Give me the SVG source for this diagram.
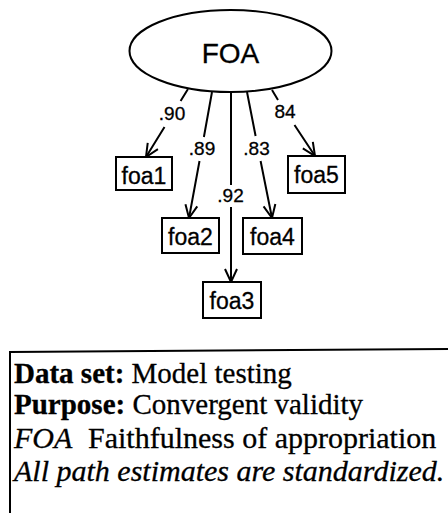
<svg xmlns="http://www.w3.org/2000/svg" width="448" height="513" viewBox="0 0 448 513">
<style>
.ln{stroke:#000;stroke-width:2;fill:none}
.bx{stroke:#000;stroke-width:2;fill:#fff}
.nt{font-family:"Liberation Sans",Arial,sans-serif;font-size:23px;text-anchor:middle;fill:#000;stroke:#000;stroke-width:0.3}
.lb{font-family:"Liberation Sans",Arial,sans-serif;font-size:19px;text-anchor:middle;fill:#000;stroke:#000;stroke-width:0.3}
.lg{font-family:"Liberation Serif","Times New Roman",serif;font-size:29px;fill:#000;stroke:#000;stroke-width:0.3}
</style>
<defs>
<marker id="arr" markerUnits="userSpaceOnUse" markerWidth="16" markerHeight="16" viewBox="-14 -8 16 16" refX="0" refY="0" orient="auto">
<path d="M-13,-6 L0,0 L-13,6" fill="none" stroke="#000" stroke-width="2"/>
</marker>
</defs>
<rect width="448" height="513" fill="#fff"/>
<g id="connectors">
<path class="ln" d="M188,89 L180.6,101 M164.5,127 L146,157" marker-end="url(#arr)"/>
<path class="ln" d="M212,92 L203.9,137 M199.5,161 L189,218" marker-end="url(#arr)"/>
<path class="ln" d="M231,92 L231,185 M231,207 L231,282" marker-end="url(#arr)"/>
<path class="ln" d="M247,92 L255.6,136 M260.6,161 L272,218" marker-end="url(#arr)"/>
<path class="ln" d="M272,90 L278,100 M294.5,125 L315,156" marker-end="url(#arr)"/>
<text class="lb" x="172" y="120">.90</text>
<text class="lb" x="202" y="155">.89</text>
<text class="lb" x="230.5" y="202">.92</text>
<text class="lb" x="256.5" y="155">.83</text>
<text class="lb" x="285" y="118">84</text>
</g>
<g id="FOA">
<ellipse class="bx" cx="230.5" cy="51" rx="101" ry="41"/>
<text class="nt" x="230.5" y="63" style="font-size:28px">FOA</text>
</g>
<g id="foa1"><rect class="bx" x="116" y="157" width="56" height="33"/><text class="nt" x="144" y="184">foa1</text></g>
<g id="foa2"><rect class="bx" x="162" y="218" width="57" height="35"/><text class="nt" x="190.5" y="245">foa2</text></g>
<g id="foa3"><rect class="bx" x="203" y="282" width="58" height="36"/><text class="nt" x="232" y="309">foa3</text></g>
<g id="foa4"><rect class="bx" x="243" y="218" width="59" height="36"/><text class="nt" x="272.5" y="245">foa4</text></g>
<g id="foa5"><rect class="bx" x="288" y="156" width="57" height="37"/><text class="nt" x="316.5" y="183">foa5</text></g>
<g id="legend">
<path class="ln" d="M448,349 L10,352 L10,513"/>
<text class="lg" x="14" y="383"><tspan font-weight="bold">Data set:</tspan> Model testing</text>
<text class="lg" x="14" y="414"><tspan font-weight="bold">Purpose:</tspan> Convergent validity</text>
<text class="lg" x="14" y="448" style="font-size:30px"><tspan font-style="italic">FOA</tspan></text>
<text class="lg" x="88" y="448" style="font-size:30px">Faithfulness of appropriation</text>
<text class="lg" x="14" y="481" font-style="italic" style="font-size:30px">All path estimates are standardized.</text>
</g>
</svg>
